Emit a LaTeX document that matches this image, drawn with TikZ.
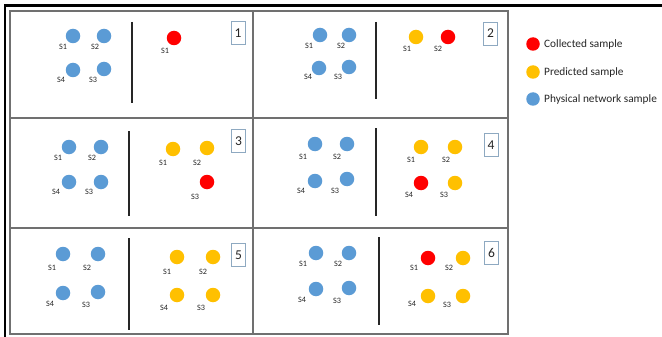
\documentclass[tikz,border=0pt]{standalone}
\usepackage{fontspec}
\setmainfont{Carlito}
\definecolor{cblue}{HTML}{5B9BD5}
\definecolor{cyel}{HTML}{FFC000}
\definecolor{cred}{HTML}{FF0000}
\definecolor{gridc}{HTML}{707070}
\definecolor{boxc}{HTML}{8EA9C1}
\begin{document}
\begin{tikzpicture}[x=1pt,y=-1pt,
  dot/.style={circle,inner sep=0pt,minimum size=14.5pt},
  bdot/.style={dot,fill=cblue},
  ydot/.style={dot,fill=cyel},
  rdot/.style={dot,fill=cred},
  lab/.style={font=\fontsize{8.2}{9}\selectfont,inner sep=0pt,text=black!85},
  numbox/.style={draw=boxc,line width=0.8pt,minimum width=14pt,minimum height=23pt,inner sep=0pt,font=\fontsize{13.5}{14}\selectfont,text=black!85},
  divline/.style={line width=1.5pt,black!85},
  gridline/.style={gridc,line width=1.1pt},
  legtext/.style={font=\fontsize{11.3}{12}\selectfont,anchor=west,inner sep=0pt,text=black!85}]
\useasboundingbox (0,0) rectangle (662,337);
\fill[white] (0,0) rectangle (662,337);
% outer frame
\draw[line width=2.7pt] (5,337) -- (5,5.5) -- (662,5.5);
% table
\draw[gridline] (10,11) rectangle (508,334);
\draw[gridline] (253,11) -- (253,334);
\draw[gridline] (10,118) -- (508,118);
\draw[gridline] (10,228) -- (508,228);
% dividers
\draw[divline] (132,22) -- (132,103);
\draw[divline] (376,22) -- (376,99);
\draw[divline] (129,131) -- (129,216);
\draw[divline] (376,128) -- (376,216);
\draw[divline] (129,238) -- (129,330);
\draw[divline] (379,237) -- (379,325);
% blue dots
\foreach \n/\x/\y in {a1/73/36,a2/104/36,a4/73/70,a3/104/69,
  b1/320/35,b2/349/35,b4/319/68,b3/349/67,
  c1/69/147,c2/101/147,c4/69/182,c3/101/182,
  d1/315/144,d2/347/144,d4/315/181,d3/347/179,
  e1/63/254,e2/98/254,e4/63/293,e3/98/292,
  f1/316/253,f2/349/253,f4/316/289,f3/349/288}
  \node[bdot] (blue\n) at (\x,\y) {};
% blue labels
\foreach \n/\x/\y/\t in {a1/63/47/S1,a2/95/47/S2,a4/61/80/S4,a3/93/80/S3,
  b1/309/46/S1,b2/341/46/S2,b4/308/77/S4,b3/338/77/S3,
  c1/58/158/S1,c2/92/158/S2,c4/56/192/S4,c3/89/192/S3,
  d1/303/157/S1,d2/337/157/S2,d4/301/191/S4,d3/335/191/S3,
  e1/52/268/S1,e2/87/268/S2,e4/50/304/S4,e3/86/305/S3,
  f1/303/264/S1,f2/338/264/S2,f4/302/300/S4,f3/337/301/S3}
  \node[lab] (bl\n) at (\x,\y) {\t};
% right-hand samples
\node[rdot] (ra1) at (174,38) {};
\node[lab] (rla1) at (165,51) {S1};
\node[ydot] (rb1) at (416,37) {};
\node[rdot] (rb2) at (448,37) {};
\node[lab] (rlb1) at (407,49) {S1};
\node[lab] (rlb2) at (438,49) {S2};
\node[ydot] (rc1) at (173,149) {};
\node[ydot] (rc2) at (207,148) {};
\node[rdot] (rc3) at (207,182) {};
\node[lab] (rlc1) at (163,163) {S1};
\node[lab] (rlc2) at (197,163) {S2};
\node[lab] (rlc3) at (195,197) {S3};
\node[ydot] (rd1) at (421,147) {};
\node[ydot] (rd2) at (455,147) {};
\node[rdot] (rd4) at (421,183) {};
\node[ydot] (rd3) at (455,183) {};
\node[lab] (rld1) at (411,160) {S1};
\node[lab] (rld2) at (446,160) {S2};
\node[lab] (rld4) at (409,195) {S4};
\node[lab] (rld3) at (444,195) {S3};
\node[ydot] (re1) at (177,257) {};
\node[ydot] (re2) at (213,257) {};
\node[ydot] (re4) at (177,295) {};
\node[ydot] (re3) at (213,295) {};
\node[lab] (rle1) at (167,272) {S1};
\node[lab] (rle2) at (203,272) {S2};
\node[lab] (rle4) at (164,308) {S4};
\node[lab] (rle3) at (201,308) {S3};
\node[rdot] (rf1) at (428,258) {};
\node[ydot] (rf2) at (463,258) {};
\node[ydot] (rf4) at (428,296) {};
\node[ydot] (rf3) at (463,296) {};
\node[lab] (rlf1) at (414,268) {S1};
\node[lab] (rlf2) at (449,268) {S2};
\node[lab] (rlf4) at (412,304) {S4};
\node[lab] (rlf3) at (447,305) {S3};
% number boxes
\node[numbox] (n1) at (238,33) {1};
\node[numbox] (n2) at (490.5,33.5) {2};
\node[numbox] (n3) at (238.5,141) {3};
\node[numbox] (n4) at (491,145) {4};
\node[numbox] (n5) at (238.5,255) {5};
\node[numbox] (n6) at (491.5,252.5) {6};
% legend
\node[rdot,minimum size=13.5pt] (lg1) at (533,44) {};
\node[ydot,minimum size=13.5pt] (lg2) at (533,72) {};
\node[bdot,minimum size=13.5pt] (lg3) at (533,99) {};
\node[legtext] (lt1) at (544,44) {Collected sample};
\node[legtext] (lt2) at (544,72) {Predicted sample};
\node[legtext] (lt3) at (544,99) {Physical network sample};
\end{tikzpicture}
\end{document}
